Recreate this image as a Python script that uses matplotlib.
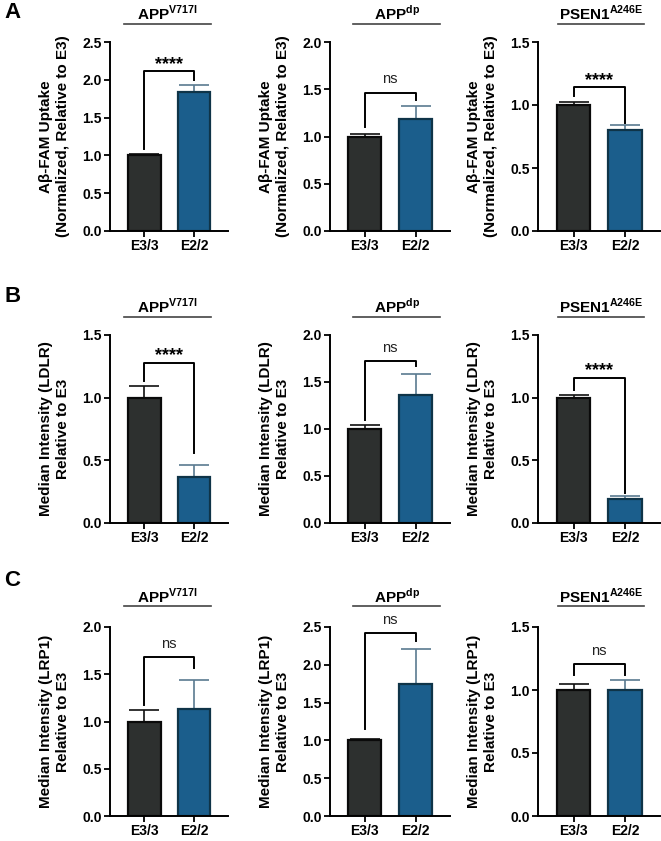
import matplotlib
matplotlib.use("Agg")
import matplotlib.pyplot as plt
from matplotlib.lines import Line2D

plt.rcParams["font.family"] = ["Liberation Sans", "DejaVu Sans"]
plt.rcParams["mathtext.fontset"] = "custom"
plt.rcParams["mathtext.rm"] = "Liberation Sans:bold"
plt.rcParams["mathtext.bf"] = "Liberation Sans:bold"

# data, row by row (A: Abeta uptake, B: LDLR, C: LRP1)
groups = ["E3/3", "E2/2"]
titles = [r"APP$^{\mathbf{V717I}}$", r"APP$^{\mathbf{dp}}$", r"PSEN1$^{\mathbf{A246E}}$"]
row_letters = ["A", "B", "C"]
ylabels = ["A\u03b2-FAM Uptake\n(Normalized, Relative to E3)",
           "Median Intensity (LDLR)\nRelative to E3",
           "Median Intensity (LRP1)\nRelative to E3"]

means = [
    [[1.0, 1.84], [1.0, 1.18], [1.0, 0.80]],
    [[1.0, 0.37], [1.0, 1.36], [1.0, 0.19]],
    [[1.0, 1.13], [1.0, 1.75], [1.0, 1.0]],
]
errs = [
    [[0.02, 0.09], [0.03, 0.14], [0.027, 0.04]],
    [[0.096, 0.09], [0.04, 0.22], [0.018, 0.025]],
    [[0.12, 0.31], [0.02, 0.46], [0.05, 0.08]],
]
ymax = [[2.5, 2.0, 1.5], [1.5, 2.0, 1.5], [2.0, 2.5, 1.5]]
# bracket: top, left leg end, right leg end
brackets = [
    [[2.12, 1.09, 2.0], [1.46, 1.10, 1.39], [1.14, 1.07, 0.855]],
    [[1.28, 1.13, 0.56], [1.72, 1.10, 1.67], [1.16, 1.06, 0.24]],
    [[1.68, 1.17, 1.57], [2.415, 1.15, 2.31], [1.205, 1.12, 1.12]],
]
sig = [["****", "ns", "****"], ["****", "ns", "****"], ["ns", "ns", "ns"]]

bar_colors = ["#2d302f", "#1b5e8c"]
edge_colors = ["#0a0a0a", "#0f3448"]
err_colors = ["#111111", "#5a7a90"]

W, H = 661, 841
fig = plt.figure(figsize=(W / 100, H / 100), dpi=100)

col_x = [110, 330, 538]
col_w = [118, 120, 122]
row_top = [42, 335, 627]
row_h = [189, 188, 189]
line_span = [(0.12, 0.86), (0.19, 0.92), (0.16, 0.87)]
line_y = [1.095, 1.096, 1.11]
title_y = [1.15, 1.15, 1.16]
letter_y = [12, 297, 580]

for r in range(3):
    fig.text(4 / W, 1 - letter_y[r] / H, row_letters[r], fontsize=16,
             fontweight="bold", va="center", ha="left")
    for c in range(3):
        ax = fig.add_axes([col_x[c] / W, 1 - (row_top[r] + row_h[r]) / H,
                           col_w[c] / W, row_h[r] / H])
        x = [0, 1]
        for i in range(2):
            ax.bar(x[i], means[r][c][i], width=0.65, color=bar_colors[i],
                   edgecolor=edge_colors[i], linewidth=1.6, zorder=2)
            ax.errorbar(x[i], means[r][c][i], yerr=[[0], [errs[r][c][i]]],
                        fmt="none", ecolor=err_colors[i], elinewidth=1.2,
                        capsize=11, capthick=1.2, zorder=1)
        top, l_end, r_end = brackets[r][c]
        ax.plot([0, 0, 1, 1], [l_end, top, top, r_end], color="black",
                lw=1.4, zorder=3, clip_on=False)
        if sig[r][c] == "ns":
            ax.text(0.5, top + ymax[r][c] * 0.035, "ns", ha="center",
                    va="bottom", fontsize=10.5, color="#222222")
        else:
            ax.text(0.5, top - ymax[r][c] * 0.01, "****", ha="center",
                    va="bottom", fontsize=13, fontweight="bold")

        ax.set_xlim(-0.69, 1.68)
        ax.set_ylim(0, ymax[r][c])
        ax.set_yticks([v * 0.5 for v in range(int(ymax[r][c] / 0.5) + 1)])
        ax.set_yticklabels([f"{v * 0.5:.1f}" for v in range(int(ymax[r][c] / 0.5) + 1)])
        ax.set_xticks(x)
        ax.set_xticklabels(groups)
        for lab in ax.get_xticklabels() + ax.get_yticklabels():
            lab.set_fontweight("bold")
            lab.set_fontsize(10)
        ax.tick_params(width=1.3, length=4, pad=2)
        ax.spines["top"].set_visible(False)
        ax.spines["right"].set_visible(False)
        ax.spines["left"].set_linewidth(1.4)
        ax.spines["bottom"].set_linewidth(1.4)
        ax.set_ylabel(ylabels[r], fontsize=11, fontweight="bold", labelpad=9)

        x0, x1 = line_span[c]
        ax.add_line(Line2D([x0, x1], [line_y[r], line_y[r]], transform=ax.transAxes,
                           color="#444444", lw=1.2, clip_on=False))
        ax.text((x0 + x1) / 2, title_y[r], titles[c], transform=ax.transAxes,
                ha="center", va="center", fontsize=11, fontweight="bold")

fig.savefig("out.png", dpi=100)
